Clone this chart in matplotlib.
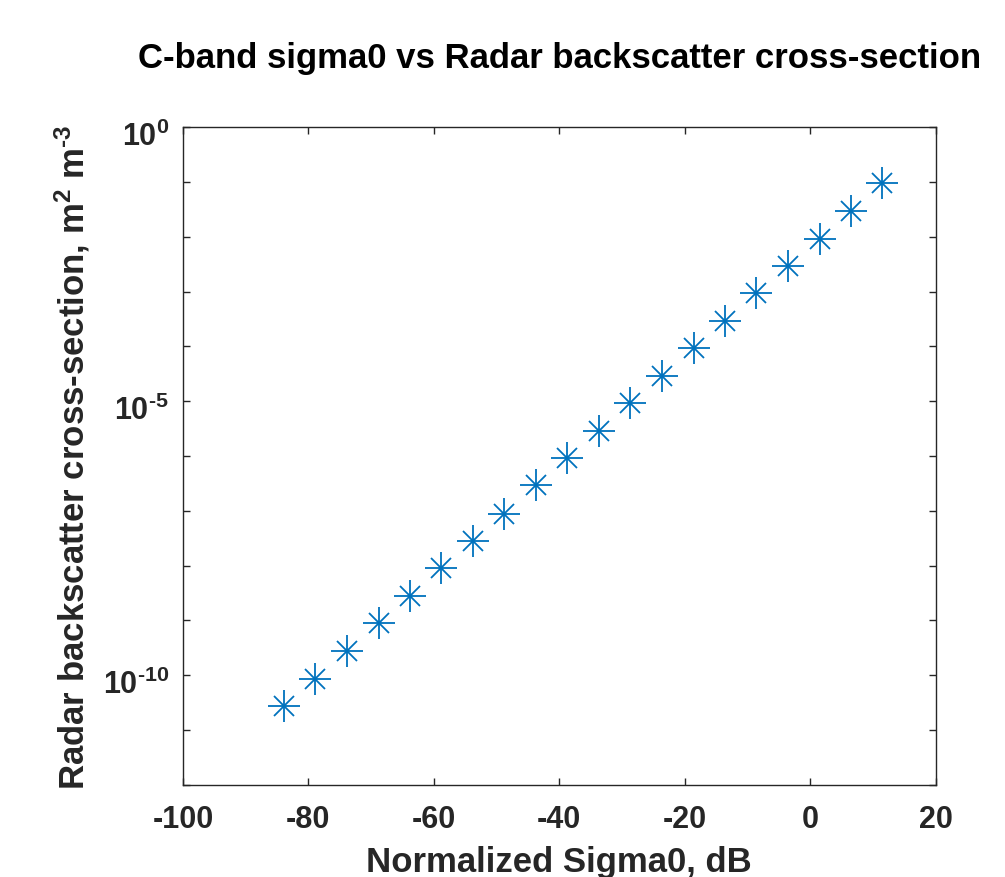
import matplotlib
matplotlib.use("Agg")
import matplotlib.pyplot as plt
from matplotlib.ticker import FixedLocator, FixedFormatter, NullFormatter
from matplotlib.transforms import ScaledTranslation

plt.rcParams['font.family'] = ['Liberation Sans', 'DejaVu Sans']
plt.rcParams['font.weight'] = 'bold'
plt.rcParams['axes.unicode_minus'] = False
plt.rcParams['mathtext.fontset'] = 'custom'
plt.rcParams['mathtext.rm'] = 'Liberation Sans:bold'
plt.rcParams['mathtext.bf'] = 'Liberation Sans:bold'
plt.rcParams['mathtext.default'] = 'bf'

# sigma0 in dB and backscatter cross-section
sigma0_db = [-83.9, -78.9, -73.9, -68.8, -63.8, -58.8, -53.8, -48.8, -43.7, -38.7,
             -33.7, -28.7, -23.6, -18.6, -13.6, -8.6, -3.5, 1.5, 6.5, 11.5]
backscatter = [2.75e-11, 8.7e-11, 2.75e-10, 8.9e-10, 2.8e-9, 8.9e-9, 2.8e-8, 8.9e-8,
               2.9e-7, 9.1e-7, 2.9e-6, 9.1e-6, 2.9e-5, 9.3e-5, 2.95e-4, 9.3e-4,
               2.95e-3, 9.3e-3, 3.0e-2, 9.5e-2]

xticks = [-100, -80, -60, -40, -20, 0, 20]
yticks = [1e-10, 1e-5, 1e0]
yticklabels = [r'$10^{\text{-10}}$', r'$10^{\text{-5}}$', r'$10^{0}$']

fig = plt.figure(figsize=(10.05, 8.78), dpi=100)
ax = fig.add_axes([0.182, 0.105, 0.749, 0.749])

blue = '#0072BD'
ax.plot(sigma0_db, backscatter, linestyle='none', marker='+', markersize=23,
        markeredgewidth=1.3, color=blue)
ax.plot(sigma0_db, backscatter, linestyle='none', marker='x', markersize=15,
        markeredgewidth=1.3, color=blue)

ax.set_yscale('log')
ax.set_xlim(-100, 20)
ax.set_ylim(1e-12, 1)
ax.set_xticks(xticks)
ax.set_xticklabels([str(t) for t in xticks])
ax.yaxis.set_major_locator(FixedLocator(yticks))
ax.yaxis.set_major_formatter(FixedFormatter(yticklabels))
ax.yaxis.set_minor_locator(FixedLocator([10.0 ** -k for k in range(0, 13)]))
ax.yaxis.set_minor_formatter(NullFormatter())

ax.tick_params(which='both', direction='in', top=True, right=True,
               length=5, width=1, colors='#262626', labelsize=22)
ax.tick_params(axis='x', pad=14)
ax.tick_params(axis='y', pad=10)
for s in ax.spines.values():
    s.set_linewidth(1)
    s.set_color('#262626')

# nudge y tick labels down a little, like MATLAB does
for lbl in ax.get_yticklabels():
    lbl.set_transform(lbl.get_transform() + ScaledTranslation(0, -4 / 72, fig.dpi_scale_trans))

ax.set_xlabel('Normalized Sigma0, dB', fontsize=25, fontweight='bold',
              color='#262626', labelpad=8)
ax.set_ylabel(r'Radar backscatter cross-section, m$^2$ m$^{\text{-3}}$', fontsize=25,
              fontweight='bold', color='#262626', labelpad=8)
ax.set_title('C-band sigma0 vs Radar backscatter cross-section', fontsize=25,
             fontweight='bold', pad=43)

fig.savefig('out.png', dpi=100)
